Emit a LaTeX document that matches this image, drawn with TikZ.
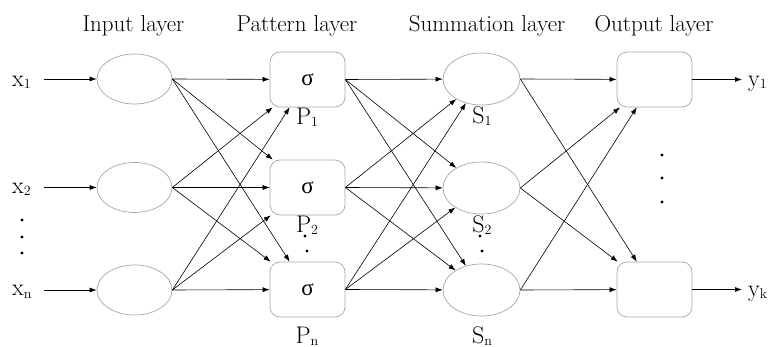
\documentclass[tikz,border=0pt]{standalone}
\usepackage{fontspec}
\newfontfamily\grfont{Liberation Serif}
\usetikzlibrary{shapes.geometric,arrows.meta}
\newcommand{\sbs}[1]{\raisebox{-2pt}{\fontsize{14}{14}\selectfont #1}}
\begin{document}
\begin{tikzpicture}[x=1pt,y=-1pt,
  neuron/.style={ellipse,draw=gray!70,line width=0.7pt,minimum width=75pt,minimum height=50pt,inner sep=0pt},
  unit/.style={rectangle,rounded corners=10pt,draw=gray!70,line width=0.7pt,minimum width=75pt,minimum height=55pt,inner sep=0pt,font=\grfont\fontsize{23}{23}\selectfont},
  conn/.style={-{Latex[length=7pt,width=5pt]},line width=0.6pt},
  title/.style={font=\fontsize{23}{23}\selectfont,anchor=base,inner sep=0pt},
  lab/.style={anchor=base,inner sep=0pt,font=\fontsize{24}{24}\selectfont},
  dotn/.style={circle,fill,inner sep=0pt,minimum size=3.2pt}]
\useasboundingbox (0,0) rectangle (771,347);
% titles
\node[title] (t1) at (133.5,32) {Input layer};
\node[title] (t2) at (297,32) {Pattern layer};
\node[title] (t3) at (487,32) {Summation layer};
\node[title] (t4) at (654,32) {Output layer};
% input layer
\node[neuron] (i1) at (134.5,79) {};
\node[neuron] (i2) at (134.5,187.5) {};
\node[neuron] (i3) at (134.5,290) {};
\node[lab,anchor=base west] (x1) at (12,87) {x\sbs{1}};
\node[lab,anchor=base west] (x2) at (12,194) {x\sbs{2}};
\node[lab,anchor=base west] (x3) at (12,296) {x\sbs{n}};
\coordinate (a1) at (44,79);
\coordinate (a2) at (44,187.5);
\coordinate (a3) at (44,290);
\node[dotn] (d1) at (22,220) {};
\node[dotn] (d2) at (22,237) {};
\node[dotn] (d3) at (22,253) {};
% pattern layer
\node[unit] (p1) at (307.5,79.5) {σ};
\node[unit] (p2) at (307.5,187.5) {σ};
\node[unit] (p3) at (307.5,289.5) {σ};
\node[lab] (pl1) at (307,125) {P\sbs{1}};
\node[lab] (pl2) at (307,233) {P\sbs{2}};
\node[lab] (pl3) at (307,343) {P\sbs{n}};
\node[dotn] (pd1) at (305,236) {};
\node[dotn] (pd2) at (307,251) {};
% summation layer
\node[neuron,minimum width=77pt,minimum height=52pt] (s1) at (481.5,79) {};
\node[neuron,minimum width=77pt,minimum height=52pt] (s2) at (481.5,188) {};
\node[neuron,minimum width=77pt,minimum height=52pt] (s3) at (481.5,290) {};
\node[lab] (sl1) at (482,124) {S\sbs{1}};
\node[lab] (sl2) at (482,233) {S\sbs{2}};
\node[lab] (sl3) at (482,343) {S\sbs{n}};
\node[dotn] (sd1) at (480,236) {};
\node[dotn] (sd2) at (482,251) {};
% output layer
\node[unit] (o1) at (654.5,79.5) {};
\node[unit] (o2) at (654.5,289.5) {};
\node[lab,anchor=base west] (y1) at (748,87) {y\sbs{1}};
\node[lab,anchor=base west] (y2) at (748,297) {y\sbs{k}};
\coordinate (b1) at (742,79.5);
\coordinate (b2) at (742,289.5);
\node[dotn] (od1) at (662,155) {};
\node[dotn] (od2) at (662,178) {};
\node[dotn] (od3) at (662,202) {};
% connectors
\foreach \i in {1,2,3} {
  \draw[conn] (a\i) -- (i\i.west);
  \foreach \j in {1,2,3} {
    \draw[conn] (i\i.east) -- (p\j);
    \draw[conn] (p\i.east) -- (s\j);
  }
  \foreach \j in {1,2} {
    \draw[conn] (s\i.east) -- (o\j);
  }
}
\draw[conn] (o1.east) -- (b1);
\draw[conn] (o2.east) -- (b2);
\end{tikzpicture}
\end{document}
